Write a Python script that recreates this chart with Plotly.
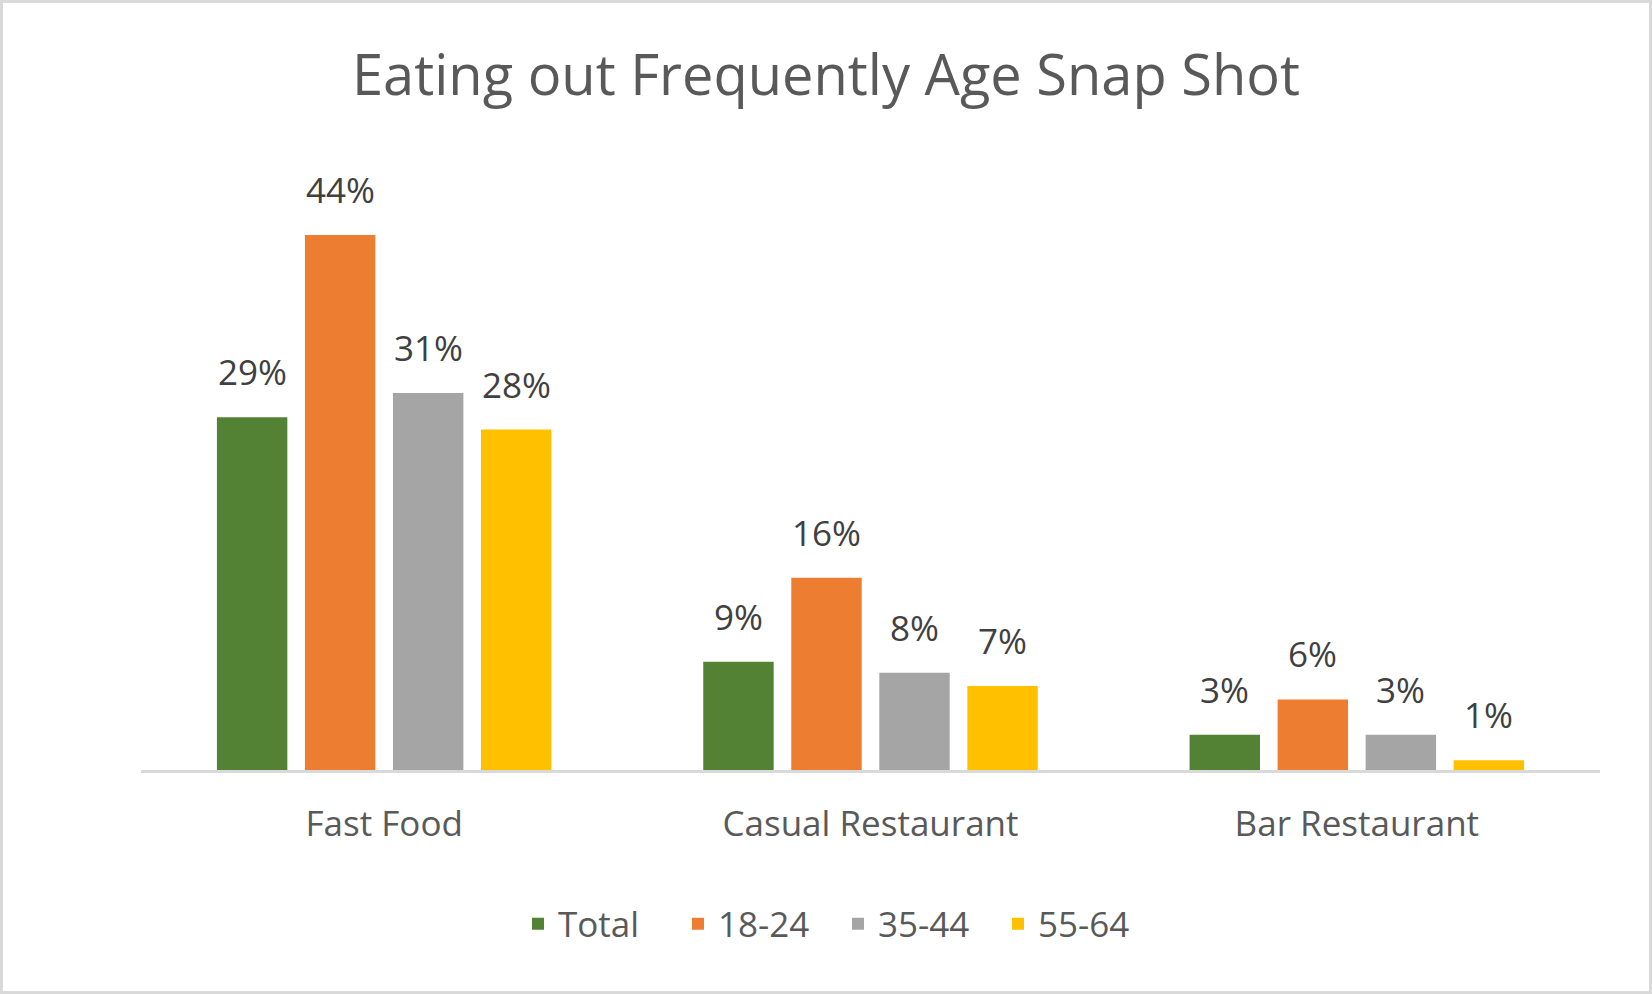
import plotly.graph_objects as go

categories = ["Fast Food", "Casual Restaurant", "Bar Restaurant"]
series_names = ["Total", "18-24", "35-44", "55-64"]
total = [0.29, 0.089, 0.029]
age_18_24 = [0.44, 0.158, 0.058]
age_35_44 = [0.31, 0.08, 0.029]
age_55_64 = [0.28, 0.069, 0.008]
colors = ["#548235", "#ED7D31", "#A5A5A5", "#FFC000"]

FONT = "Open Sans"
W, H = 1652, 994
ML, MR, MT, MB = 141, 52, 162, 224
BARGAP, GROUPGAP = 0.276, 0.2

all_series = [total, age_18_24, age_35_44, age_55_64]

fig = go.Figure()
for name, vals, col in zip(series_names, all_series, colors):
    fig.add_trace(go.Bar(
        name=name, x=categories, y=vals,
        marker=dict(color=col, line=dict(width=0)),
        hovertemplate="%{x}<br>" + name + ": %{y:.0%}<extra></extra>",
    ))

pw = W - ML - MR
ph = H - MT - MB
slot = pw / len(categories) * (1 - BARGAP) / len(series_names)

annotations = []
for i, vals in enumerate(all_series):
    off = (i - (len(series_names) - 1) / 2) * slot
    for cat, v in zip(categories, vals):
        annotations.append(dict(
            x=cat, y=v, xref="x", yref="y", text=f"{v:.0%}", showarrow=False,
            xanchor="center", yanchor="bottom", xshift=off, yshift=20,
            font=dict(family=FONT, size=35, color="#404040"),
        ))

def px_x(X):
    return (X - ML) / pw
def px_y(Y):
    return (H - MB - Y) / ph

fig.update_layout(
    width=W, height=H,
    margin=dict(l=ML, r=MR, t=MT, b=MB),
    paper_bgcolor="white", plot_bgcolor="rgba(0,0,0,0)",
    barmode="group", bargap=BARGAP, bargroupgap=GROUPGAP,
    title=dict(text="Eating out Frequently Age Snap Shot", x=0.5, xanchor="center",
               xref="container", yref="container", y=1 - 75 / H, yanchor="middle",
               font=dict(family=FONT, size=56, color="#595959")),
    xaxis=dict(showline=True, linecolor="#D9D9D9", linewidth=2.5, showgrid=False,
               ticks="outside", ticklen=21, tickcolor="rgba(0,0,0,0)",
               tickfont=dict(family=FONT, size=35, color="#595959")),
    yaxis=dict(visible=False, range=[0, 0.5]),
    showlegend=True,
    legend=dict(orientation="h", xref="container", yref="container",
                x=838 / W, xanchor="center", y=1 - 924 / H, yanchor="middle",
                entrywidth=115, entrywidthmode="pixels",
                font=dict(family=FONT, size=35, color="#595959"),
                bgcolor="rgba(0,0,0,0)"),
    annotations=annotations,
    shapes=[dict(type="rect", xref="paper", yref="paper",
                 x0=px_x(1.5), x1=px_x(W - 1.5), y0=px_y(H - 1.5), y1=px_y(1.5),
                 line=dict(color="#D9D9D9", width=3), fillcolor="rgba(0,0,0,0)")],
)

fig.write_html("out.html", config={"displayModeBar": False},
               post_script="document.body.style.margin='0';document.body.style.overflow='hidden';")
